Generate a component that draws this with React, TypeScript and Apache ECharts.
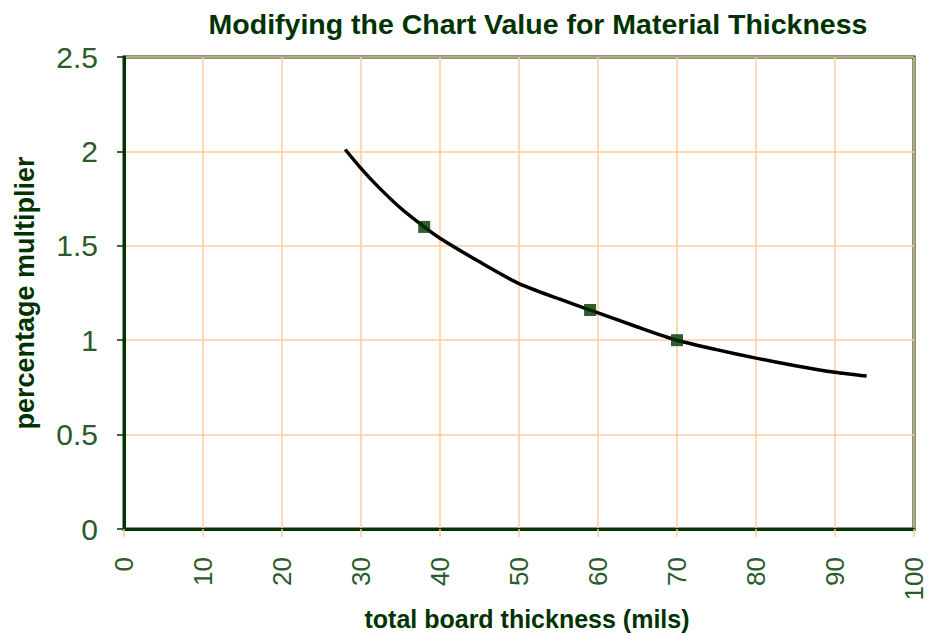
import React, { useEffect, useRef } from "react";
import * as echarts from "echarts";

const curveX = [28, 30, 32, 35, 38, 40, 45, 50, 55, 60, 65, 70, 75, 80, 85, 90, 94];
const curveY = [2.01, 1.91, 1.82, 1.70, 1.60, 1.54, 1.415, 1.30, 1.22, 1.145, 1.07, 1.0, 0.95, 0.905, 0.865, 0.83, 0.81];
const markerX = [38, 59, 70];
const markerY = [1.6, 1.16, 1.0];

const titleText = "Modifying the Chart Value for Material Thickness";
const xName = "total board thickness (mils)";
const yName = "percentage multiplier";

const DARK = "#003300";
const LABEL = "#2b5a2b";
const GRID = "#ffcc99";
const SANS = "'Liberation Sans', Arial, sans-serif";

export default function App() {
  const ref = useRef<HTMLDivElement>(null);
  useEffect(() => {
    if (!ref.current) return;
    const chart = echarts.init(ref.current, null, { renderer: "svg" });
    chart.setOption({
      animation: false,
      backgroundColor: "#ffffff",
      title: {
        text: titleText,
        left: 533,
        top: 4,
        textAlign: "center",
        textStyle: { fontFamily: SANS, fontWeight: "bold", fontSize: 28.5, color: DARK },
      },
      graphic: [
        {
          type: "text",
          x: 527,
          y: 619,
          style: {
            text: xName,
            fontFamily: SANS,
            fontWeight: "bold",
            fontSize: 25,
            fill: DARK,
            textAlign: "center",
            textVerticalAlign: "middle",
          },
        },
      ],
      grid: {
        left: 124,
        right: 14,
        top: 57,
        bottom: 106,
        show: true,
        borderColor: DARK,
        borderWidth: 3,
        containLabel: false,
        outerBoundsMode: "none",
      },
      xAxis: {
        type: "value",
        min: 0,
        max: 100,
        interval: 10,
        axisLine: { show: true, lineStyle: { color: DARK, width: 3 } },
        axisTick: { show: true, length: 8, lineStyle: { color: GRID, width: 1.5 } },
        axisLabel: {
          rotate: 90,
          margin: 28,
          fontFamily: SANS,
          fontSize: 26,
          color: LABEL,
        },
        splitLine: { show: true, lineStyle: { color: GRID, width: 1.5 } },
      },
      yAxis: {
        type: "value",
        min: 0,
        max: 2.5,
        interval: 0.5,
        name: yName,
        nameLocation: "middle",
        nameGap: 86,
        nameTextStyle: { fontFamily: SANS, fontWeight: "bold", fontSize: 27, color: DARK },
        axisLine: { show: true, lineStyle: { color: DARK, width: 3 } },
        axisTick: { show: true, length: 7, lineStyle: { color: DARK, width: 1.5 } },
        axisLabel: {
          margin: 26,
          fontFamily: SANS,
          fontSize: 30,
          color: LABEL,
        },
        splitLine: { show: true, lineStyle: { color: GRID, width: 1.5 } },
      },
      series: [
        {
          type: "line",
          data: curveX.map((x, i) => [x, curveY[i]]),
          smooth: 0.25,
          showSymbol: false,
          symbol: "none",
          lineStyle: { color: "#000000", width: 3.5 },
          z: 2,
        },
        {
          type: "scatter",
          data: markerX.map((x, i) => [x, markerY[i]]),
          symbol: "rect",
          symbolSize: 12,
          itemStyle: { color: DARK },
          z: 3,
        },
      ],
    });
    return () => chart.dispose();
  }, []);
  return <div ref={ref} style={{ width: 928, height: 635, position: "absolute", left: 0, top: 0 }} />;
}
